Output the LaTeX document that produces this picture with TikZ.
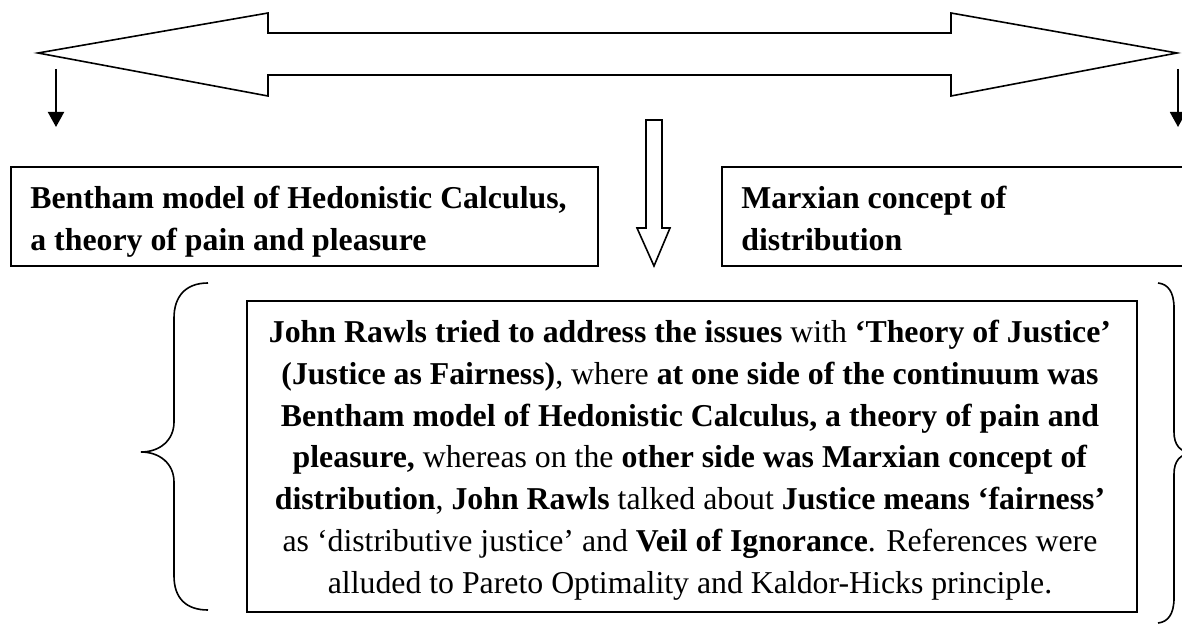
\documentclass[tikz,border=0pt]{standalone}
\usepackage{fontspec}
\setmainfont{Liberation Serif}
\usetikzlibrary{arrows.meta}

\begin{document}
\begin{tikzpicture}[x=0.5pt,y=-0.5pt,>={Triangle[length=7.5pt,width=8pt]},
    panel/.style={draw,line width=0.8pt,inner sep=0pt},
    bodytext/.style={font=\fontsize{15.9pt}{20.85pt}\selectfont,inner sep=0pt}]
    \useasboundingbox (0,0) rectangle (1182,626);
    \clip (0,0) rectangle (1182,626);

    % Continuum (hollow double arrow)
    \draw[line width=0.8pt] (38,53) -- (268,13) -- (268,33) -- (951,33) -- (951,13)
        -- (1177,53) -- (951,96) -- (951,75) -- (268,75) -- (268,96) -- cycle;

    % Ends of the continuum
    \coordinate (L1) at (56,69);
    \coordinate (L2) at (56,127);
    \coordinate (R1) at (1178,69);
    \coordinate (R2) at (1178,127);
    \foreach \a/\b in {L1/L2,R1/R2}
        \draw[->,line width=1pt] (\a)--(\b);

    % Middle (hollow down arrow)
    \draw[line width=0.8pt] (646,120) -- (662,120) -- (662,228) -- (670,228)
        -- (654,266) -- (637,228) -- (646,228) -- cycle;

    % Top boxes (base = last line)
    \node[panel,minimum width=293.5pt,minimum height=49.5pt,anchor=north west] (bentham) at (10,166) {};
    \node[bodytext,anchor=base west,align=left] (benthamText) at (30,250)
        {\textbf{Bentham model of Hedonistic Calculus,}\\\textbf{a theory of pain and pleasure}};
    \node[panel,minimum width=240pt,minimum height=49.5pt,anchor=north west] (marx) at (721,166) {};
    \node[bodytext,anchor=base west,align=left] (marxText) at (741,250)
        {\textbf{Marxian concept of}\\\textbf{distribution}};

    % Rawls box
    \node[panel,minimum width=445pt,minimum height=155.5pt,anchor=north west] (rawls) at (246,300) {};
    \node[bodytext,anchor=base,align=center] (rawlsText) at (690,593)
        {\textbf{John Rawls tried to address the issues} with \textbf{‘Theory of Justice’}\\
         \textbf{(Justice as Fairness)}, where \textbf{at one side of the continuum was}\\
         \textbf{Bentham model of Hedonistic Calculus, a theory of pain and}\\
         \textbf{pleasure,} whereas on the \textbf{other side was Marxian concept of}\\
         \textbf{distribution}, \textbf{John Rawls} talked about \textbf{Justice means ‘fairness’}\\
         as ‘distributive justice’ and \textbf{Veil of Ignorance}. References were\\
         alluded to Pareto Optimality and Kaldor-Hicks principle.};

    % Braces
    \draw[line width=0.8pt] (208,283) .. controls (186,283) and (174,296) .. (174,318)
        -- (174,422) .. controls (174,440) and (160,452) .. (141,452)
        .. controls (160,452) and (174,464) .. (174,482)
        -- (174,576) .. controls (174,598) and (186,610) .. (208,610);
    \draw[line width=0.8pt] (1158,283) .. controls (1168,284) and (1174,292) .. (1174,308)
        -- (1174,432) .. controls (1174,445) and (1180,452) .. (1192,453)
        .. controls (1180,454) and (1174,461) .. (1174,474)
        -- (1174,598) .. controls (1174,614) and (1168,622) .. (1158,623);
\end{tikzpicture}
\end{document}
